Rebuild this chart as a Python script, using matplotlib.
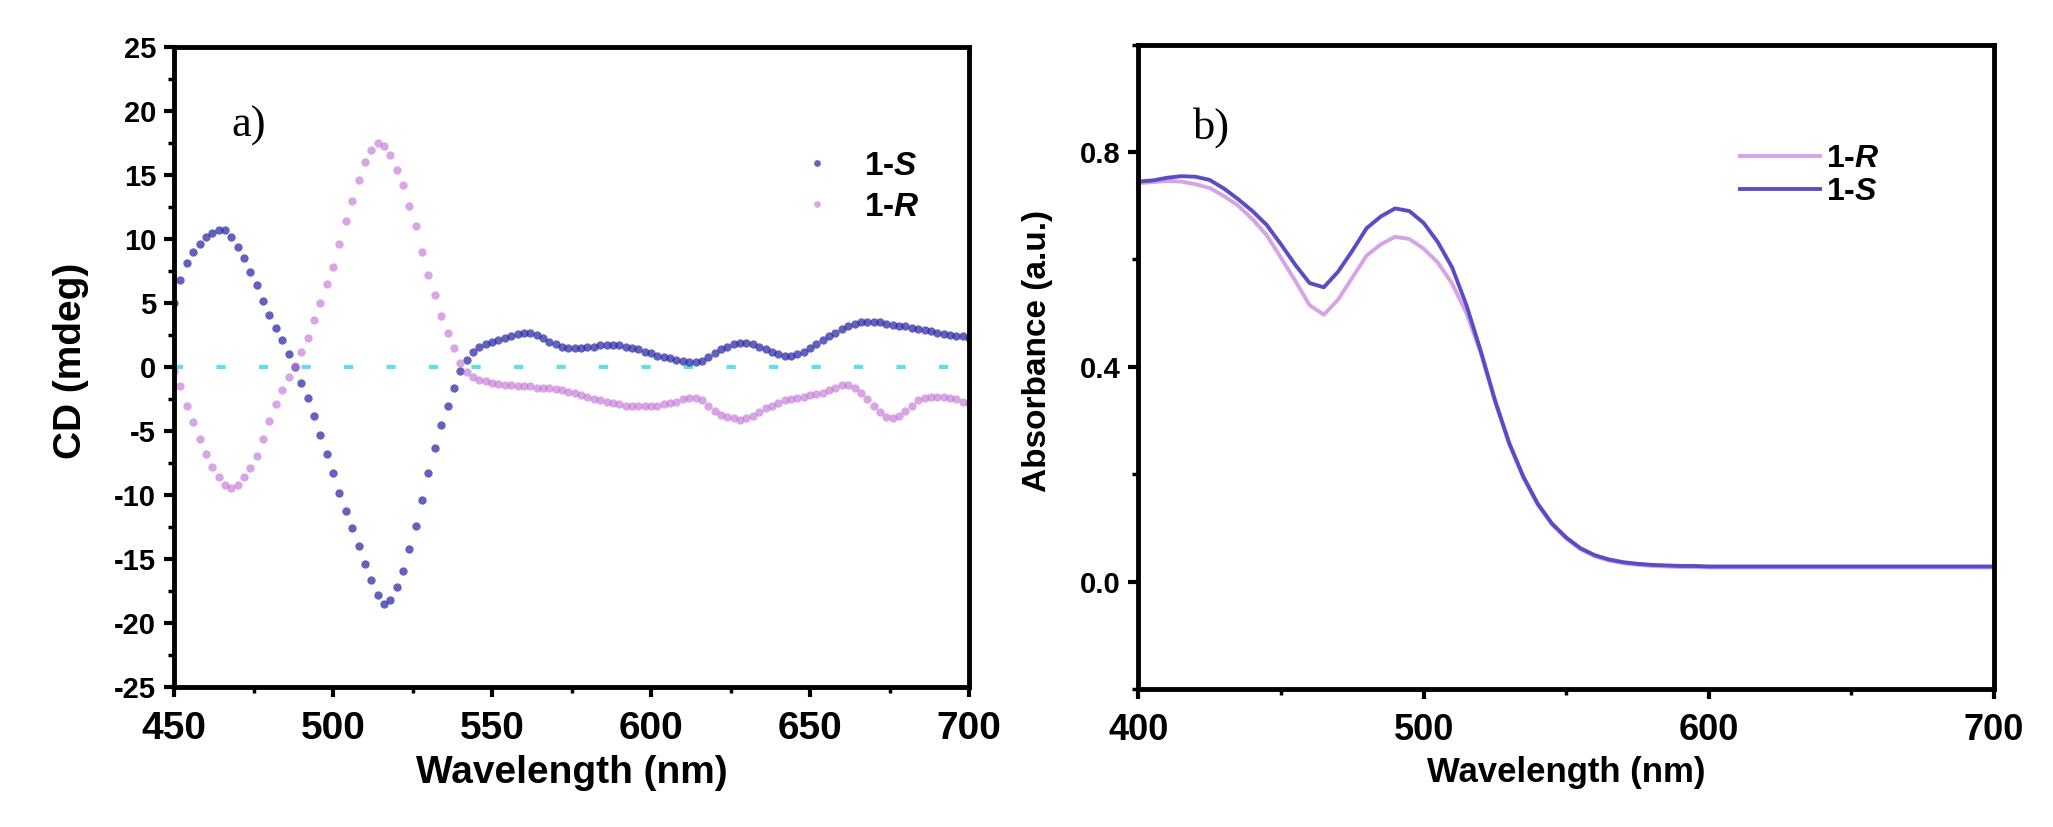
import numpy as np
import matplotlib
matplotlib.use("Agg")
import matplotlib.pyplot as plt
from matplotlib.ticker import MultipleLocator

plt.rcParams['font.family'] = ['Liberation Sans', 'DejaVu Sans']
plt.rcParams['mathtext.fontset'] = 'custom'
plt.rcParams['mathtext.rm'] = 'Liberation Sans:bold'
plt.rcParams['mathtext.bfit'] = 'Liberation Sans:italic:bold'
plt.rcParams['mathtext.it'] = 'Liberation Sans:italic:bold'
plt.rcParams['axes.unicode_minus'] = False

# ---- panel a: CD spectra, 2 nm steps 450..700 ----
cd_wl = np.arange(450, 701, 2)
cd_S = [5.0, 6.8, 8.1, 9.0, 9.6, 10.2, 10.5, 10.7, 10.7, 10.2,
        9.4, 8.5, 7.4, 6.4, 5.2, 4.1, 3.1, 2.1, 1.0, 0.0,
        -1.2, -2.4, -3.8, -5.3, -6.8, -8.3, -9.8, -11.2, -12.6, -14.0,
        -15.4, -16.6, -17.8, -18.5, -18.2, -17.2, -15.9, -14.2, -12.4, -10.4,
        -8.3, -6.3, -4.5, -3.0, -1.6, -0.3, 0.6, 1.2, 1.6, 1.8,
        2.0, 2.1, 2.3, 2.4, 2.6, 2.7, 2.7, 2.5, 2.3, 2.0,
        1.8, 1.6, 1.5, 1.5, 1.5, 1.6, 1.6, 1.7, 1.7, 1.7,
        1.7, 1.6, 1.5, 1.4, 1.2, 1.1, 0.9, 0.8, 0.7, 0.6,
        0.5, 0.4, 0.4, 0.5, 0.8, 1.1, 1.4, 1.6, 1.8, 1.9,
        1.9, 1.8, 1.6, 1.4, 1.2, 1.0, 0.9, 0.9, 1.0, 1.2,
        1.5, 1.8, 2.1, 2.4, 2.7, 3.0, 3.2, 3.4, 3.5, 3.5,
        3.5, 3.5, 3.4, 3.3, 3.2, 3.2, 3.1, 3.0, 2.9, 2.8,
        2.7, 2.6, 2.5, 2.4, 2.4, 2.3]
cd_R = [-0.3, -1.5, -3.0, -4.3, -5.6, -6.8, -7.8, -8.6, -9.2, -9.4,
        -9.2, -8.6, -7.9, -6.9, -5.6, -4.2, -2.9, -1.8, -0.8, 0.1,
        1.2, 2.3, 3.7, 5.0, 6.5, 7.8, 9.6, 11.4, 13.0, 14.6,
        16.0, 17.0, 17.5, 17.3, 16.6, 15.4, 14.2, 12.6, 11.0, 9.0,
        7.2, 5.6, 4.0, 2.7, 1.5, 0.3, -0.4, -0.8, -1.0, -1.1,
        -1.2, -1.3, -1.4, -1.4, -1.5, -1.5, -1.5, -1.6, -1.6, -1.6,
        -1.7, -1.8, -1.9, -2.0, -2.2, -2.3, -2.5, -2.6, -2.7, -2.8,
        -2.9, -3.0, -3.0, -3.0, -3.0, -3.0, -3.0, -2.9, -2.8, -2.7,
        -2.5, -2.4, -2.4, -2.6, -3.0, -3.4, -3.7, -3.9, -4.0, -4.1,
        -4.0, -3.8, -3.5, -3.2, -3.0, -2.8, -2.6, -2.5, -2.4, -2.3,
        -2.2, -2.1, -2.0, -1.8, -1.6, -1.4, -1.4, -1.6, -2.0, -2.5,
        -3.0, -3.5, -3.9, -4.0, -3.8, -3.4, -3.0, -2.6, -2.4, -2.3,
        -2.3, -2.3, -2.4, -2.5, -2.7, -2.8]

# ---- panel b: absorption, 5 nm steps 400..700 ----
abs_wl = np.arange(400, 701, 5)
abs_S = [0.745, 0.747, 0.752, 0.755, 0.754, 0.748, 0.732, 0.712, 0.690, 0.664,
         0.628, 0.590, 0.556, 0.548, 0.577, 0.616, 0.658, 0.680, 0.695, 0.690,
         0.668, 0.632, 0.585, 0.515, 0.430, 0.338, 0.258, 0.195, 0.145, 0.108,
         0.082, 0.062, 0.049, 0.041, 0.036, 0.033, 0.031, 0.030, 0.029, 0.029,
         0.028, 0.028, 0.028, 0.028, 0.028, 0.028, 0.028, 0.028, 0.028, 0.028,
         0.028, 0.028, 0.028, 0.028, 0.028, 0.028, 0.028, 0.028, 0.028, 0.028,
         0.028]
abs_R = [0.742, 0.744, 0.746, 0.745, 0.740, 0.733, 0.718, 0.700, 0.675, 0.645,
         0.603, 0.560, 0.515, 0.497, 0.525, 0.566, 0.607, 0.628, 0.642, 0.638,
         0.620, 0.594, 0.555, 0.500, 0.426, 0.336, 0.256, 0.193, 0.143, 0.106,
         0.080, 0.060, 0.047, 0.039, 0.034, 0.031, 0.029, 0.028, 0.027, 0.027,
         0.026, 0.026, 0.026, 0.026, 0.026, 0.026, 0.026, 0.026, 0.026, 0.026,
         0.026, 0.026, 0.026, 0.026, 0.026, 0.026, 0.026, 0.026, 0.026, 0.026,
         0.026]

fig = plt.figure(figsize=(20.53, 8.27), dpi=100)
ax1 = fig.add_axes([0.0848, 0.169, 0.3872, 0.774])
ax2 = fig.add_axes([0.5545, 0.167, 0.4168, 0.779])


def style_axes(ax, xsize, ysize):
    for sp in ax.spines.values():
        sp.set_linewidth(3.5)
    ax.tick_params(which='major', direction='out', length=7, width=3, pad=6)
    ax.tick_params(which='minor', direction='out', length=4, width=2.5)
    ax.tick_params(axis='x', labelsize=xsize, pad=10)
    ax.tick_params(axis='y', labelsize=ysize)
    for lab in ax.get_xticklabels() + ax.get_yticklabels():
        lab.set_fontweight('bold')


# panel a
ax1.axhline(0, color='#5fdfe6', lw=3, dashes=(2.2, 8))
ax1.plot(cd_wl, cd_S, 'o', ms=6, mec='none', color='#2626a2', alpha=0.72, label='1-$\\mathbfit{S}$')
ax1.plot(cd_wl, cd_R, 'o', ms=6, mec='none', color='#c070d4', alpha=0.62, label='1-$\\mathbfit{R}$')
ax1.set_xlim(450, 700)
ax1.set_ylim(-25, 25)
ax1.xaxis.set_major_locator(MultipleLocator(50))
ax1.xaxis.set_minor_locator(MultipleLocator(25))
ax1.yaxis.set_major_locator(MultipleLocator(5))
ax1.yaxis.set_minor_locator(MultipleLocator(2.5))
style_axes(ax1, 28, 21)
ax1.set_xlabel('Wavelength (nm)', fontsize=28, fontweight='bold', labelpad=6)
ax1.set_ylabel('CD (mdeg)', fontsize=28, fontweight='bold')
ax1.yaxis.set_label_coords(-0.107, 0.51)
ax1.text(0.072, 0.86, 'a)', transform=ax1.transAxes, fontsize=32,
         family='Liberation Serif')
ax1.legend(loc='upper right', bbox_to_anchor=(0.975, 0.885), frameon=False,
           prop={'size': 24, 'weight': 'bold'}, markerscale=0.8,
           handletextpad=0.4, labelspacing=0.3)

# panel b
ax2.plot(abs_wl, abs_R, '-', lw=2.8, color='#d7a3e6', label='1-$\\mathbfit{R}$')
ax2.plot(abs_wl, abs_S, '-', lw=2.8, color='#5a4cc4', label='1-$\\mathbfit{S}$')
ax2.set_xlim(400, 700)
ax2.set_ylim(-0.2, 1.0)
ax2.xaxis.set_major_locator(MultipleLocator(100))
ax2.xaxis.set_minor_locator(MultipleLocator(50))
ax2.set_yticks([0.0, 0.4, 0.8])
ax2.yaxis.set_minor_locator(MultipleLocator(0.2))
style_axes(ax2, 26, 21)
ax2.set_xlabel('Wavelength (nm)', fontsize=25, fontweight='bold', labelpad=6)
ax2.set_ylabel('Absorbance (a.u.)', fontsize=24, fontweight='bold')
ax2.yaxis.set_label_coords(-0.1, 0.525)
ax2.text(0.064, 0.855, 'b)', transform=ax2.transAxes, fontsize=32,
         family='Liberation Serif')
ax2.legend(loc='upper right', bbox_to_anchor=(0.9, 0.89), frameon=False,
           prop={'size': 23, 'weight': 'bold'}, handlelength=2.5,
           handletextpad=0.2, labelspacing=0.1)

fig.savefig('out.png', dpi=100)
